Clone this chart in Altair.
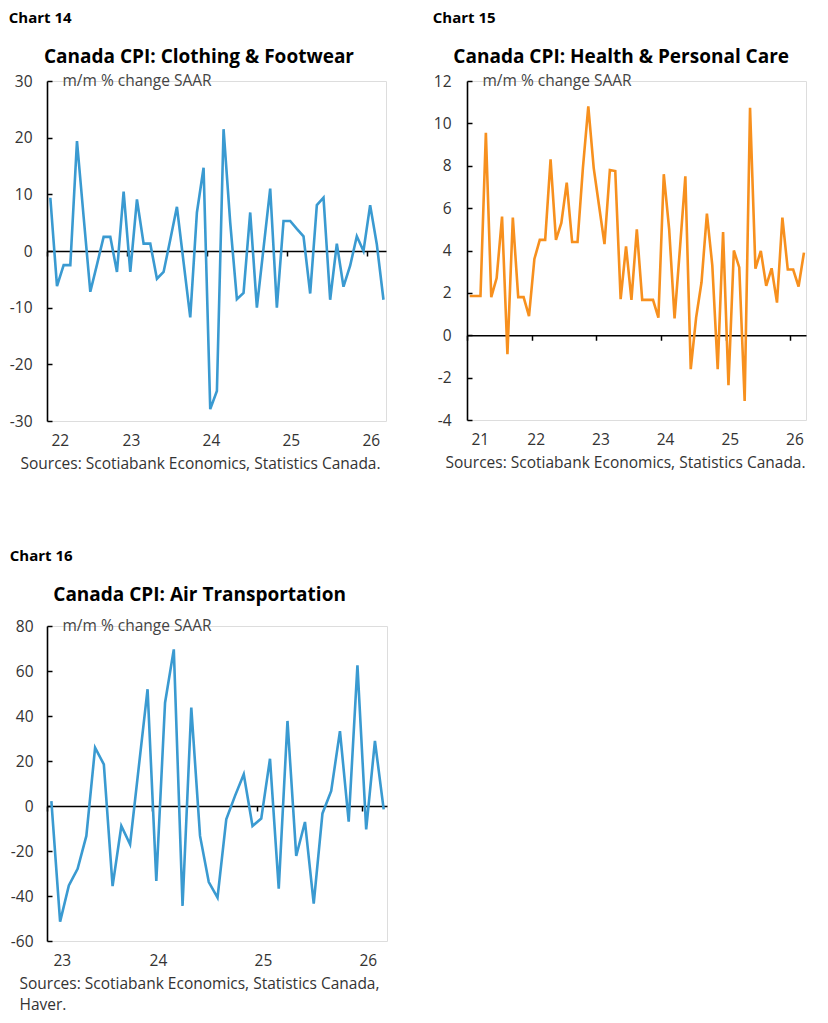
import altair as alt
import pandas as pd

# ---- data (m/m % change SAAR), monthly ----
clothing_start = 2022
clothing = [9.4, -6.2, -2.5, -2.5, 19.4, 6.0, -7.2, -2.4, 2.5, 2.5, -3.7, 10.5,
            -3.7, 9.1, 1.3, 1.3, -4.9, -3.7, 2.0, 7.8, -2.0, -11.7, 6.8, 14.7,
            -27.9, -24.7, 21.5, 5.0, -8.5, -7.4, 6.8, -10.0, 0.5, 11.0, -10.0, 5.3,
            5.3, 3.9, 2.6, -7.5, 8.1, 9.4, -8.6, 1.3, -6.3, -2.6, 2.6, 0.0,
            8.1, 1.2, -8.6]

health_start = 2021
health = [1.85, 1.85, 1.85, 9.56, 1.8, 2.7, 5.6, -0.9, 5.55, 1.8, 1.8, 0.9,
          3.6, 4.5, 4.5, 8.3, 4.5, 5.3, 7.2, 4.4, 4.4, 7.9, 10.8, 7.9,
          6.1, 4.3, 7.8, 7.75, 1.7, 4.2, 1.67, 5.0, 1.67, 1.67, 1.67, 0.83,
          7.6, 5.0, 0.8, 4.1, 7.5, -1.6, 0.83, 2.5, 5.74, 3.3, -1.6, 4.87,
          -2.36, 4.0, 3.2, -3.1, 10.74, 3.14, 3.98, 2.33, 3.16, 1.54, 5.55, 3.1,
          3.1, 2.3, 3.9]

air_start = 2023
air = [2.2, -51.4, -35.3, -27.9, -13.3, 25.9, 18.5, -35.6, -8.9, -17.0, 17.5, 51.9,
       -33.3, 45.9, 69.6, -44.4, 43.7, -13.3, -33.8, -40.7, -5.9, 4.5, 14.1, -8.9,
       -5.6, 21.0, -36.7, 37.8, -22.2, -7.1, -43.4, -3.3, 6.7, 33.3, -7.0, 62.5,
       -10.4, 28.9, -1.5]

x_end = 2026.24
BLUE = "#3A9AD1"
ORANGE = "#F7901E"
FONT = "Open Sans"
TXT = "#333333"
FS = 15.5


def panel(values, start, ydom, ystep, color, width, height, title, label,
          sources, src_x, lab_off, lab_pad, title_off):
    df = pd.DataFrame({
        "t": [start + (k + 0.5) / 12 for k in range(len(values))],
        "v": values,
    })
    years = list(range(start, 2027))
    yticks = list(range(ydom[0], ydom[1] + 1, ystep))
    xs = alt.Scale(domain=[start, x_end], nice=False, zero=False)
    ys = alt.Scale(domain=ydom, nice=False, zero=False)
    zero_from_bottom = height * (0 - ydom[0]) / (ydom[1] - ydom[0])

    base = alt.Chart(df)
    frame = base.mark_line(opacity=0).encode(
        x=alt.X("t:Q", scale=xs, axis=alt.Axis(
            orient="bottom", offset=-zero_from_bottom, values=years,
            labels=False, ticks=True, tickSize=5, tickColor="black",
            tickWidth=1.5, domain=True, domainColor="black", domainWidth=1.6,
            grid=False, title=None)),
        y=alt.Y("v:Q", scale=ys, axis=alt.Axis(
            orient="right", offset=-width, values=yticks, labels=False,
            ticks=True, tickSize=5, tickColor="black", tickWidth=1.5,
            domain=True, domainColor="black", domainWidth=1.6,
            grid=False, title=None)),
    )
    line = base.mark_line(color=color, strokeWidth=2.6).encode(
        x=alt.X("t:Q", scale=xs, axis=alt.Axis(
            orient="bottom", values=years, labelExpr="'' + (datum.value % 100)",
            ticks=False, domain=False, grid=False, labelPadding=12,
            labelOffset=lab_off, labelFontSize=FS, labelColor=TXT,
            labelFont=FONT,
            title=sources, titleX=src_x, titleY=35, titleAlign="left",
            titleAnchor="start", titleBaseline="top", titleFontWeight="normal",
            titleFontSize=FS, titleColor=TXT, titleLineHeight=21,
            titleFont=FONT)),
        y=alt.Y("v:Q", scale=ys, axis=alt.Axis(
            orient="left", values=yticks, labelExpr="'' + datum.value",
            ticks=False, domain=False, grid=False, labelPadding=lab_pad,
            labelFontSize=FS, labelColor=TXT, labelFont=FONT,
            title="m/m % change SAAR", titleAngle=0, titleX=15, titleY=-1,
            titleAlign="left", titleBaseline="middle", titleFontWeight="normal",
            titleFontSize=FS, titleColor="#444444", titleFont=FONT)),
    )
    inner = alt.layer(frame, line).resolve_axis(
        x="independent", y="independent"
    ).properties(
        width=width, height=height,
        title=alt.TitleParams(title, anchor="middle", frame="bounds",
                              fontSize=19, fontWeight="bold", font=FONT,
                              color="black", offset=title_off),
    )
    return alt.vconcat(inner, title=alt.TitleParams(
        label, anchor="start", fontSize=15, fontWeight="bold", font=FONT,
        color="black", offset=22))


c14 = panel(clothing, clothing_start, [-30, 30], 10, BLUE, 339, 340,
            "Canada CPI: Clothing & Footwear", "Chart 14",
            "Sources: Scotiabank Economics, Statistics Canada.", -27, 4, 15, 6)
c15 = panel(health, health_start, [-4, 12], 2, ORANGE, 339, 339,
            "Canada CPI: Health & Personal Care", "Chart 15",
            "Sources: Scotiabank Economics, Statistics Canada.", -22, 4, 16, 6)
c16 = panel(air, air_start, [-60, 80], 20, BLUE, 340, 315,
            "Canada CPI: Air Transportation", "Chart 16",
            ["Sources: Scotiabank Economics, Statistics Canada,", "Haver."],
            -28, 6, 14, 13)

chart = alt.vconcat(
    alt.hconcat(c14, c15, spacing=42),
    c16,
    spacing=76,
).properties(
    padding={"left": 0, "top": 2, "right": 0, "bottom": 0}
).configure_view(stroke=None).configure(font=FONT)

chart.save("out.html", embed_options={"renderer": "svg", "actions": False})
